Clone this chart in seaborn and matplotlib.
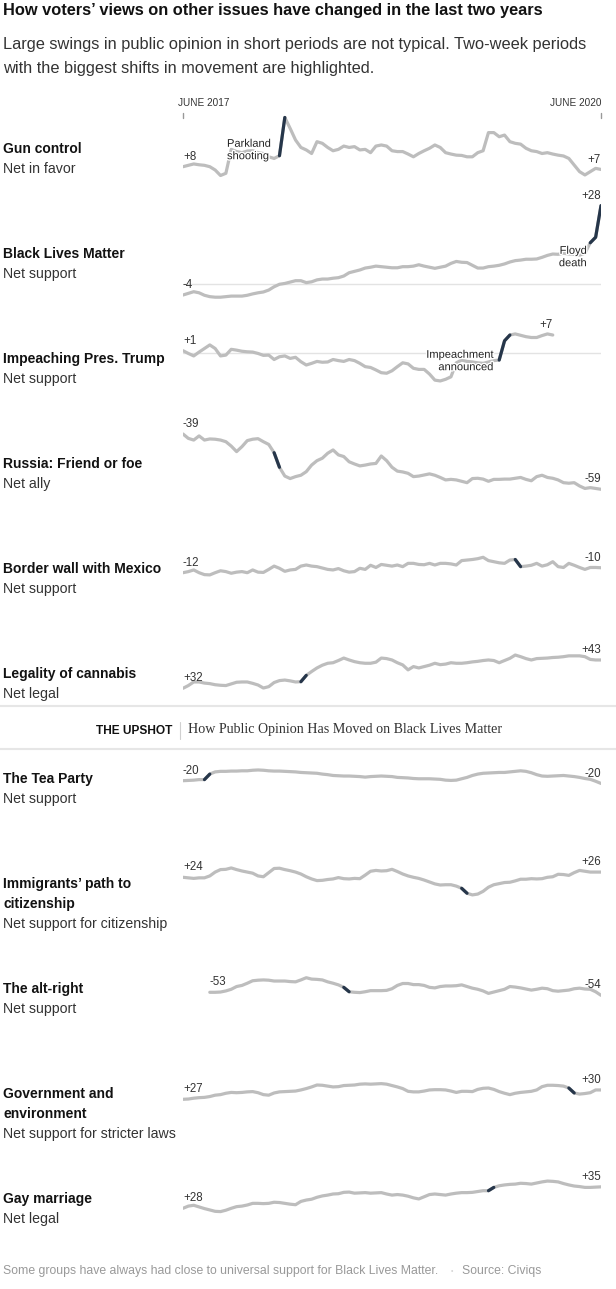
import numpy as np
import pandas as pd
import matplotlib.pyplot as plt
import matplotlib.patheffects as pe
import seaborn as sns

# ----------------------------
# Data: net opinion, one reading every two weeks, June 2017 - June 2020
# ----------------------------
dates = pd.date_range("2017-06-01", periods=79, freq="14D")
nan = np.nan

gun_control = [
    8.0, 8.5, 9.0, 8.7, 8.5, 8.0, 6.8, 4.8, 5.6, 14.3,
    13.5, 13.1, 13.7, 13.8, 13.1, 12.8, 11.6, 11.0, 12.0, 25.9,
    21.9, 17.7, 15.0, 14.1, 12.8, 17.1, 16.5, 15.0, 13.8, 14.3,
    15.5, 15.0, 15.3, 14.1, 14.3, 13.1, 15.5, 15.9, 15.5, 13.8,
    13.5, 13.5, 12.6, 11.6, 12.8, 13.8, 14.7, 15.9, 15.0, 13.1,
    12.6, 12.2, 12.1, 11.6, 11.6, 13.1, 13.8, 20.4, 20.4, 18.9,
    19.5, 17.1, 16.5, 16.2, 14.7, 13.8, 13.5, 12.8, 13.1, 12.6,
    12.2, 11.9, 11.0, 8.6, 6.2, 5.0, 6.2, 7.4, 7.0]

black_lives_matter = [
    -4.0, -3.4, -2.8, -3.2, -4.1, -4.6, -4.8, -4.8, -4.6, -4.4,
    -4.4, -4.4, -4.1, -3.6, -3.2, -2.9, -2.2, -1.0, -0.1, 0.2,
    0.7, 1.2, 1.2, 0.5, 0.8, 1.5, 1.8, 1.8, 2.1, 2.3,
    2.9, 4.1, 4.6, 5.1, 5.8, 6.1, 6.5, 6.3, 6.1, 5.9,
    5.9, 6.3, 6.3, 6.5, 7.0, 6.5, 6.1, 5.7, 6.1, 6.5,
    7.5, 8.2, 7.9, 7.8, 6.8, 5.8, 5.8, 6.3, 6.5, 6.8,
    7.3, 8.0, 8.5, 8.7, 9.0, 9.0, 9.1, 9.7, 10.4, 10.9,
    10.8, 11.2, 10.9, 10.8, 10.5, 11.2, 15.0, 17.0, 28.5]

impeachment = [
    1.0, 0.0, -0.9, 0.5, 1.8, 3.1, 1.8, -0.9, -0.6, 1.5,
    1.2, 0.8, 0.6, 0.5, 0.0, -0.7, -0.6, -2.2, -1.2, -0.9,
    -1.8, -1.4, -3.0, -4.2, -3.6, -2.9, -3.2, -3.1, -2.2, -2.6,
    -2.9, -2.2, -2.6, -3.6, -4.8, -5.1, -6.0, -7.0, -7.2, -6.3,
    -4.8, -3.4, -3.8, -5.4, -5.8, -5.8, -7.5, -9.7, -10.0, -9.4,
    -8.5, -3.4, -2.4, -2.9, -3.1, -3.4, -3.6, -3.1, -2.6, -2.4,
    4.6, 6.7, 7.1, 6.6, 6.1, 5.8, 5.8, 6.5, 7.1, 6.7,
    nan, nan, nan, nan, nan, nan, nan, nan, nan]

russia = [
    -39.0, -40.6, -41.2, -39.7, -41.2, -40.8, -40.9, -41.2, -41.8, -43.4,
    -45.4, -43.6, -41.4, -40.9, -40.7, -41.8, -42.8, -45.8, -51.1, -54.3,
    -55.2, -54.5, -54.0, -52.7, -50.3, -48.7, -47.8, -46.0, -44.8, -46.6,
    -47.2, -49.1, -49.9, -50.6, -50.3, -49.9, -49.7, -47.0, -48.7, -51.1,
    -52.5, -52.8, -53.3, -54.5, -54.3, -53.9, -53.5, -54.0, -54.8, -55.7,
    -55.5, -55.7, -56.2, -56.7, -55.2, -55.1, -55.4, -56.2, -55.5, -55.5,
    -55.4, -55.4, -55.1, -54.8, -55.5, -56.0, -54.5, -54.0, -54.8, -55.1,
    -55.7, -56.7, -56.9, -56.7, -57.9, -58.8, -58.5, -58.8, -59.1]

border_wall = [
    -12.0, -11.6, -11.0, -12.0, -12.7, -12.8, -12.0, -11.3, -11.6, -12.2,
    -11.8, -11.6, -12.0, -11.0, -11.8, -11.9, -10.8, -9.6, -10.4, -11.5,
    -11.0, -10.8, -9.6, -9.2, -9.6, -9.8, -10.3, -10.8, -11.0, -10.5,
    -11.3, -11.8, -11.6, -10.4, -10.8, -9.3, -10.1, -9.0, -9.3, -9.6,
    -9.2, -9.8, -8.6, -8.6, -9.0, -9.1, -8.6, -9.2, -8.6, -8.6,
    -8.8, -9.2, -7.6, -7.4, -7.2, -6.9, -6.4, -7.6, -8.0, -8.4,
    -8.6, -7.4, -7.2, -9.8, -9.6, -9.3, -8.6, -9.6, -9.1, -8.0,
    -9.8, -10.1, -8.6, -9.3, -10.1, -10.8, -10.1, -10.1, -10.2]

cannabis = [
    32.0, 33.0, 34.3, 34.3, 33.9, 33.7, 33.3, 33.1, 33.0, 33.6,
    34.2, 34.3, 34.3, 33.8, 33.2, 32.1, 32.6, 34.1, 34.8, 35.0,
    34.7, 34.3, 34.4, 36.7, 38.1, 39.4, 40.4, 41.1, 41.3, 42.1,
    43.0, 42.3, 41.7, 41.3, 41.1, 41.1, 41.5, 43.0, 42.8, 42.3,
    41.3, 40.5, 38.7, 39.9, 39.4, 39.9, 40.4, 41.1, 40.6, 40.8,
    41.3, 41.1, 41.1, 41.3, 41.6, 41.8, 42.1, 42.3, 42.1, 41.3,
    42.1, 42.9, 44.1, 43.5, 42.8, 42.3, 42.8, 42.9, 43.0, 43.2,
    43.3, 43.5, 43.8, 43.8, 43.8, 43.5, 42.5, 42.3, 42.3]

tea_party = [
    -20.0, -19.9, -19.8, -19.6, -19.6, -17.6, -16.8, -16.6, -16.6, -16.5,
    -16.5, -16.4, -16.4, -16.2, -16.1, -16.2, -16.4, -16.5, -16.5, -16.6,
    -16.7, -16.8, -17.0, -17.1, -17.2, -17.3, -17.6, -17.8, -18.1, -18.2,
    -18.3, -18.3, -18.4, -18.5, -18.7, -18.5, -18.4, -18.3, -18.4, -18.5,
    -18.8, -18.9, -19.0, -19.2, -19.3, -19.3, -19.3, -19.4, -19.5, -19.8,
    -19.9, -19.8, -19.3, -18.8, -18.1, -17.6, -17.3, -17.2, -17.1, -17.0,
    -17.0, -16.8, -16.6, -16.4, -16.6, -17.1, -17.8, -18.3, -18.4, -18.3,
    -18.2, -18.1, -18.3, -18.5, -18.8, -19.2, -19.5, -20.2, -21.0]

immigrants = [
    24.0, 23.8, 23.6, 23.8, 23.8, 24.5, 25.9, 26.8, 26.9, 27.4,
    26.8, 26.3, 25.9, 25.5, 24.5, 24.2, 25.7, 27.2, 27.3, 26.8,
    26.4, 25.9, 25.2, 24.2, 23.4, 22.8, 22.9, 23.2, 23.4, 23.9,
    23.5, 23.4, 23.6, 23.5, 24.8, 26.2, 26.5, 26.3, 26.4, 26.9,
    26.1, 25.2, 24.5, 24.0, 23.6, 23.0, 22.3, 21.6, 21.2, 21.3,
    21.3, 20.8, 20.0, 18.2, 17.6, 17.9, 18.9, 20.4, 21.3, 21.7,
    22.1, 22.2, 22.7, 23.3, 23.3, 23.5, 23.4, 23.5, 24.0, 24.2,
    25.1, 25.0, 24.7, 25.7, 26.5, 26.2, 25.9, 25.9, 25.9]

alt_right = [
    nan, nan, nan, nan, nan, -53.0, -53.0, -52.9, -52.5, -51.9,
    -50.9, -50.5, -49.7, -48.8, -48.6, -48.5, -48.6, -48.9, -48.9, -48.9,
    -49.1, -49.2, -48.5, -47.7, -48.2, -48.3, -48.5, -49.2, -49.7, -50.3,
    -51.2, -52.8, -53.0, -53.1, -52.8, -52.4, -52.4, -52.4, -52.3, -51.7,
    -50.5, -49.8, -49.8, -50.2, -50.2, -50.5, -51.2, -51.4, -50.9, -50.7,
    -50.7, -50.6, -50.3, -50.9, -51.5, -51.9, -52.5, -53.4, -52.9, -52.4,
    -51.9, -50.9, -51.1, -51.4, -51.8, -52.2, -51.9, -51.5, -51.7, -52.4,
    -52.6, -52.4, -52.2, -51.7, -51.5, -51.8, -51.9, -52.8, -54.1]

environment = [
    27.0, 27.1, 27.4, 27.6, 27.7, 28.0, 28.5, 28.7, 29.2, 29.5,
    29.4, 29.5, 29.7, 29.8, 29.4, 28.7, 28.5, 29.3, 29.7, 29.8,
    29.9, 30.0, 30.4, 30.9, 31.5, 32.2, 32.1, 31.8, 31.5, 31.6,
    32.0, 32.1, 32.2, 32.5, 32.6, 32.5, 32.6, 32.7, 32.5, 32.0,
    31.5, 30.9, 29.9, 29.7, 29.7, 30.0, 30.4, 30.5, 30.5, 30.4,
    30.0, 29.5, 29.9, 29.9, 29.8, 30.6, 31.0, 31.1, 30.6, 29.8,
    29.2, 28.7, 29.2, 29.5, 29.7, 29.9, 30.4, 31.6, 32.1, 32.1,
    32.0, 31.8, 31.1, 29.3, 28.9, 29.1, 29.4, 30.4, 30.4]

gay_marriage = [
    28.0, 28.8, 29.1, 28.5, 27.9, 27.4, 26.9, 26.8, 27.3, 28.0,
    28.6, 28.8, 29.2, 29.8, 29.8, 29.7, 29.8, 30.2, 30.1, 29.8,
    29.5, 29.3, 30.5, 31.0, 31.3, 32.0, 32.5, 32.8, 33.2, 33.3,
    33.8, 33.9, 33.5, 33.6, 33.7, 33.5, 33.6, 33.7, 33.2, 32.8,
    33.0, 32.8, 32.4, 31.8, 31.4, 32.2, 33.0, 33.2, 33.0, 32.8,
    33.2, 33.5, 33.7, 33.7, 33.8, 34.1, 34.4, 34.4, 35.6, 36.2,
    36.5, 36.7, 36.8, 37.1, 37.0, 36.8, 37.2, 37.6, 37.9, 37.8,
    37.6, 37.0, 36.5, 36.1, 35.9, 35.6, 35.6, 35.7, 35.8]

series = [gun_control, black_lives_matter, impeachment, russia, border_wall, cannabis,
          tea_party, immigrants, alt_right, environment, gay_marriage]

issues = ["Gun control", "Black Lives Matter", "Impeaching Pres. Trump",
          "Russia: Friend or foe", "Border wall with Mexico", "Legality of cannabis",
          "The Tea Party", "Immigrants’ path to\ncitizenship", "The alt-right",
          "Government and\nenvironment", "Gay marriage"]
measures = ["Net in favor", "Net support", "Net support", "Net ally", "Net support",
            "Net legal", "Net support", "Net support for citizenship", "Net support",
            "Net support for stricter laws", "Net legal"]
start_labels = ["+8", "-4", "+1", "-39", "-12", "+32", "-20", "+24", "-53", "+27", "+28"]
end_labels = ["+7", "+28", "+7", "-59", "-10", "+43", "-20", "+26", "-54", "+30", "+35"]
# two-week periods with the biggest shift (index range into dates)
highlights = [(18, 19), (76, 78), (59, 61), (17, 18), (62, 63), (22, 23),
              (4, 5), (52, 53), (30, 31), (72, 73), (57, 58)]

# ----------------------------
# Layout (pixels of a 616 x 1289 canvas)
# ----------------------------
W, H = 616, 1289
X0, X1 = 183, 601
PX_PER_POINT = 2.75
row_label_y = [149, 254, 359, 464, 569, 674, 779, 884, 989, 1094, 1199]
line_start_y = [166.7, 295, 350.7, 434, 572.7, 688.3, 780.7, 877.3, 992.3, 1099.3, 1208.3]

GRAY = "#bdbdbd"
NAVY = "#26364a"
TEXT = "#222222"
SANS = ["Liberation Sans", "DejaVu Sans"]

sns.set_theme(style="white")
plt.rcParams["font.family"] = SANS


def fx(px):
    return px / W


def fy(py):
    return 1 - py / H


fig = plt.figure(figsize=(W / 100, H / 100), dpi=100)
fig.patch.set_facecolor("white")

# ----------------------------
# Header
# ----------------------------
fig.text(fx(3), fy(11), "How voters’ views on other issues have changed in the last two years",
         fontsize=11.8, fontweight="bold", color="#121212", va="center")
fig.text(fx(3), fy(45), "Large swings in public opinion in short periods are not typical. Two-week periods",
         fontsize=11.8, color="#333333", va="center")
fig.text(fx(3), fy(68), "with the biggest shifts in movement are highlighted.",
         fontsize=11.8, color="#333333", va="center")
fig.text(fx(178), fy(103), "JUNE 2017", fontsize=7.2, color="#333333", va="center", ha="left")
fig.text(fx(602), fy(103), "JUNE 2020", fontsize=7.2, color="#333333", va="center", ha="right")
for xt in (X0, X1):
    fig.add_artist(plt.Line2D([fx(xt), fx(xt)], [fy(113), fy(118)],
                              transform=fig.transFigure, color="#999999", lw=1))

# ----------------------------
# One sparkline per issue
# ----------------------------
for i, vals in enumerate(series):
    df = pd.DataFrame({"date": dates, "value": vals}).dropna()
    v0 = df["value"].iloc[0]
    ax = fig.add_axes([fx(X0), fy(line_start_y[i] + 120), (X1 - X0) / W, 240 / H])
    ax.set_xlim(dates[0], dates[-1])
    ax.set_ylim(v0 - 120 / PX_PER_POINT, v0 + 120 / PX_PER_POINT)
    ax.patch.set_alpha(0)

    if df["value"].min() < 0 < df["value"].max():
        ax.axhline(0, color="#e3e3e3", lw=1, zorder=0)

    sns.lineplot(data=df, x="date", y="value", ax=ax, color=GRAY, lw=2.3,
                 estimator=None, sort=False, solid_capstyle="round", solid_joinstyle="round")
    a, b = highlights[i]
    hl = pd.DataFrame({"date": dates[a:b + 1], "value": vals[a:b + 1]})
    sns.lineplot(data=hl, x="date", y="value", ax=ax, color=NAVY, lw=2.3,
                 estimator=None, sort=False, solid_capstyle="round", solid_joinstyle="round")

    ax.annotate(start_labels[i], xy=(df["date"].iloc[0], v0), xytext=(0, 5),
                textcoords="offset points", ha="left", va="baseline",
                fontsize=8.3, color="#333333")
    ax.annotate(end_labels[i], xy=(df["date"].iloc[-1], df["value"].iloc[-1]), xytext=(0, 5),
                textcoords="offset points", ha="right", va="baseline",
                fontsize=8.3, color="#333333")
    ax.axis("off")

    # row titles
    lines = issues[i].split("\n")
    for j, line in enumerate(lines):
        fig.text(fx(3), fy(row_label_y[i] + 20 * j), line, fontsize=10,
                 fontweight="bold", color="#121212", va="center")
    fig.text(fx(3), fy(row_label_y[i] + 20 * len(lines)), measures[i], fontsize=10.2,
             color="#333333", va="center")

# ----------------------------
# Event notes
# ----------------------------
halo = [pe.withStroke(linewidth=2, foreground="white")]
notes = [("Parkland\nshooting", 227, 150, "left"),
         ("Floyd\ndeath", 587, 257, "right"),
         ("Impeachment\nannounced", 494, 361, "right")]
for txt, nx, ny, align in notes:
    fig.text(fx(nx), fy(ny), txt, fontsize=8, color=TEXT, ha=align, va="center",
             multialignment=align, linespacing=1.3,
             path_effects=halo, zorder=10)

# ----------------------------
# Upshot banner
# ----------------------------
for yb in (706, 749):
    fig.add_artist(plt.Line2D([0, 1], [fy(yb), fy(yb)], transform=fig.transFigure,
                              color="#e6e6e6", lw=1.5))
fig.text(fx(172), fy(731), "THE UPSHOT", fontsize=8.6, fontweight="bold", color="#111111",
         ha="right", va="center")
fig.add_artist(plt.Line2D([fx(180), fx(180)], [fy(722), fy(739)], transform=fig.transFigure,
                          color="#d0d0d0", lw=0.8))
fig.text(fx(188), fy(729), "How Public Opinion Has Moved on Black Lives Matter", fontsize=10.1,
         color="#333333", family="Liberation Serif", va="center")

# ----------------------------
# Footer
# ----------------------------
fig.text(fx(3), fy(1271), "Some groups have always had close to universal support for Black Lives Matter.",
         fontsize=8.8, color="#999999", va="center")
fig.text(fx(452), fy(1271), "•", fontsize=5, color="#d5d5d5", va="center", ha="center")
fig.text(fx(462), fy(1271), "Source: Civiqs", fontsize=8.8, color="#999999", va="center")

plt.savefig("out.png", dpi=100, facecolor="white")
